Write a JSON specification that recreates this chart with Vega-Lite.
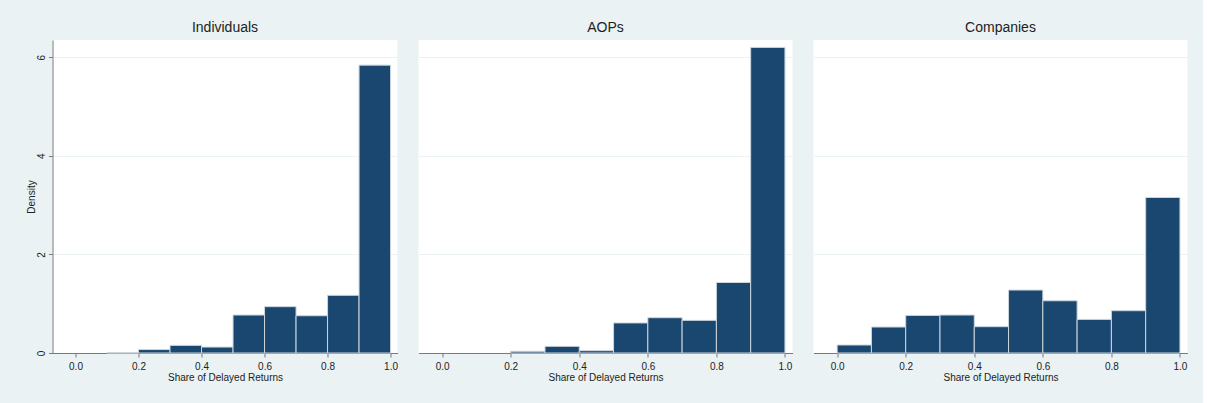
{
  "$schema": "https://vega.github.io/schema/vega-lite/v6.json",
  "background": "#eaf2f3",
  "padding": {"left": 25.5, "top": 21, "right": 15, "bottom": 21},
  "spacing": 21,
  "bounds": "flush",
  "config": {
    "font": "Liberation Sans",
    "view": {"fill": "white", "stroke": null},
    "axis": {
      "labelFont": "Liberation Sans",
      "titleFont": "Liberation Sans",
      "labelFontSize": 10,
      "titleFontSize": 10,
      "titleFontWeight": "normal",
      "labelColor": "#222222",
      "titleColor": "#222222",
      "domainColor": "#7a7a7a",
      "tickColor": "#7a7a7a",
      "tickSize": 4,
      "gridColor": "#eaf2f3",
      "gridWidth": 1
    },
    "title": {"font": "Liberation Sans", "fontSize": 14, "fontWeight": "normal", "color": "#222222", "baseline": "alphabetic", "offset": 5, "frame": "group", "anchor": "middle"}
  },
  "data": {
    "values": [
      {"group": "Individuals", "start": 0.1, "end": 0.2, "density": 0.005},
      {"group": "Individuals", "start": 0.2, "end": 0.3, "density": 0.07},
      {"group": "Individuals", "start": 0.3, "end": 0.4, "density": 0.155},
      {"group": "Individuals", "start": 0.4, "end": 0.5, "density": 0.12},
      {"group": "Individuals", "start": 0.5, "end": 0.6, "density": 0.77},
      {"group": "Individuals", "start": 0.6, "end": 0.7, "density": 0.94},
      {"group": "Individuals", "start": 0.7, "end": 0.8, "density": 0.756},
      {"group": "Individuals", "start": 0.8, "end": 0.9, "density": 1.17},
      {"group": "Individuals", "start": 0.9, "end": 1.0, "density": 5.84},
      {"group": "AOPs", "start": 0.2, "end": 0.3, "density": 0.034},
      {"group": "AOPs", "start": 0.3, "end": 0.4, "density": 0.135},
      {"group": "AOPs", "start": 0.4, "end": 0.5, "density": 0.047},
      {"group": "AOPs", "start": 0.5, "end": 0.6, "density": 0.61},
      {"group": "AOPs", "start": 0.6, "end": 0.7, "density": 0.716},
      {"group": "AOPs", "start": 0.7, "end": 0.8, "density": 0.662},
      {"group": "AOPs", "start": 0.8, "end": 0.9, "density": 1.43},
      {"group": "AOPs", "start": 0.9, "end": 1.0, "density": 6.2},
      {"group": "Companies", "start": 0.0, "end": 0.1, "density": 0.162},
      {"group": "Companies", "start": 0.1, "end": 0.2, "density": 0.527},
      {"group": "Companies", "start": 0.2, "end": 0.3, "density": 0.763},
      {"group": "Companies", "start": 0.3, "end": 0.4, "density": 0.77},
      {"group": "Companies", "start": 0.4, "end": 0.5, "density": 0.534},
      {"group": "Companies", "start": 0.5, "end": 0.6, "density": 1.277},
      {"group": "Companies", "start": 0.6, "end": 0.7, "density": 1.06},
      {"group": "Companies", "start": 0.7, "end": 0.8, "density": 0.682},
      {"group": "Companies", "start": 0.8, "end": 0.9, "density": 0.858},
      {"group": "Companies", "start": 0.9, "end": 1.0, "density": 3.155}
    ]
  },
  "hconcat": [
    {
      "title": {"text": "Individuals"},
      "width": 345,
      "height": 313,
      "transform": [{"filter": "datum.group === 'Individuals'"}],
      "mark": {"type": "bar", "fill": "#1a476f", "stroke": "#cdd5dc", "strokeWidth": 1},
      "encoding": {
        "x": {"field": "start", "type": "quantitative", "scale": {"domain": [-0.073, 1.022], "nice": false, "zero": false},
          "axis": {"values": [0, 0.2, 0.4, 0.6, 0.8, 1.0], "format": ".1f", "grid": false, "labelPadding": 4.5, "title": "Share of Delayed Returns", "titleBaseline": "top", "titleY": 19.6}},
        "x2": {"field": "end"},
        "y": {"field": "density", "type": "quantitative", "scale": {"domain": [0, 6.35], "nice": false},
          "axis": {"values": [0, 2, 4, 6], "grid": true, "labelAngle": -90, "labelAlign": "center", "labelBaseline": "bottom", "labelPadding": 1.6, "title": "Density", "titleAngle": -90, "titleBaseline": "bottom", "titleX": -16.3}},
        "y2": {"datum": 0}
      }
    },
    {
      "title": {"text": "AOPs"},
      "width": 374,
      "height": 313,
      "transform": [{"filter": "datum.group === 'AOPs'"}],
      "mark": {"type": "bar", "fill": "#1a476f", "stroke": "#cdd5dc", "strokeWidth": 1},
      "encoding": {
        "x": {"field": "start", "type": "quantitative", "scale": {"domain": [-0.069, 1.022], "nice": false, "zero": false},
          "axis": {"values": [0, 0.2, 0.4, 0.6, 0.8, 1.0], "format": ".1f", "grid": false, "labelPadding": 4.5, "title": "Share of Delayed Returns", "titleBaseline": "top", "titleY": 19.6}},
        "x2": {"field": "end"},
        "y": {"field": "density", "type": "quantitative", "scale": {"domain": [0, 6.35], "nice": false},
          "axis": {"values": [0, 2, 4, 6], "grid": true, "labels": false, "ticks": false, "domain": false, "title": null}},
        "y2": {"datum": 0}
      }
    },
    {
      "title": {"text": "Companies"},
      "width": 374,
      "height": 313,
      "transform": [{"filter": "datum.group === 'Companies'"}],
      "mark": {"type": "bar", "fill": "#1a476f", "stroke": "#cdd5dc", "strokeWidth": 1},
      "encoding": {
        "x": {"field": "start", "type": "quantitative", "scale": {"domain": [-0.069, 1.022], "nice": false, "zero": false},
          "axis": {"values": [0, 0.2, 0.4, 0.6, 0.8, 1.0], "format": ".1f", "grid": false, "labelPadding": 4.5, "title": "Share of Delayed Returns", "titleBaseline": "top", "titleY": 19.6}},
        "x2": {"field": "end"},
        "y": {"field": "density", "type": "quantitative", "scale": {"domain": [0, 6.35], "nice": false},
          "axis": {"values": [0, 2, 4, 6], "grid": true, "labels": false, "ticks": false, "domain": false, "title": null}},
        "y2": {"datum": 0}
      }
    }
  ]
}
